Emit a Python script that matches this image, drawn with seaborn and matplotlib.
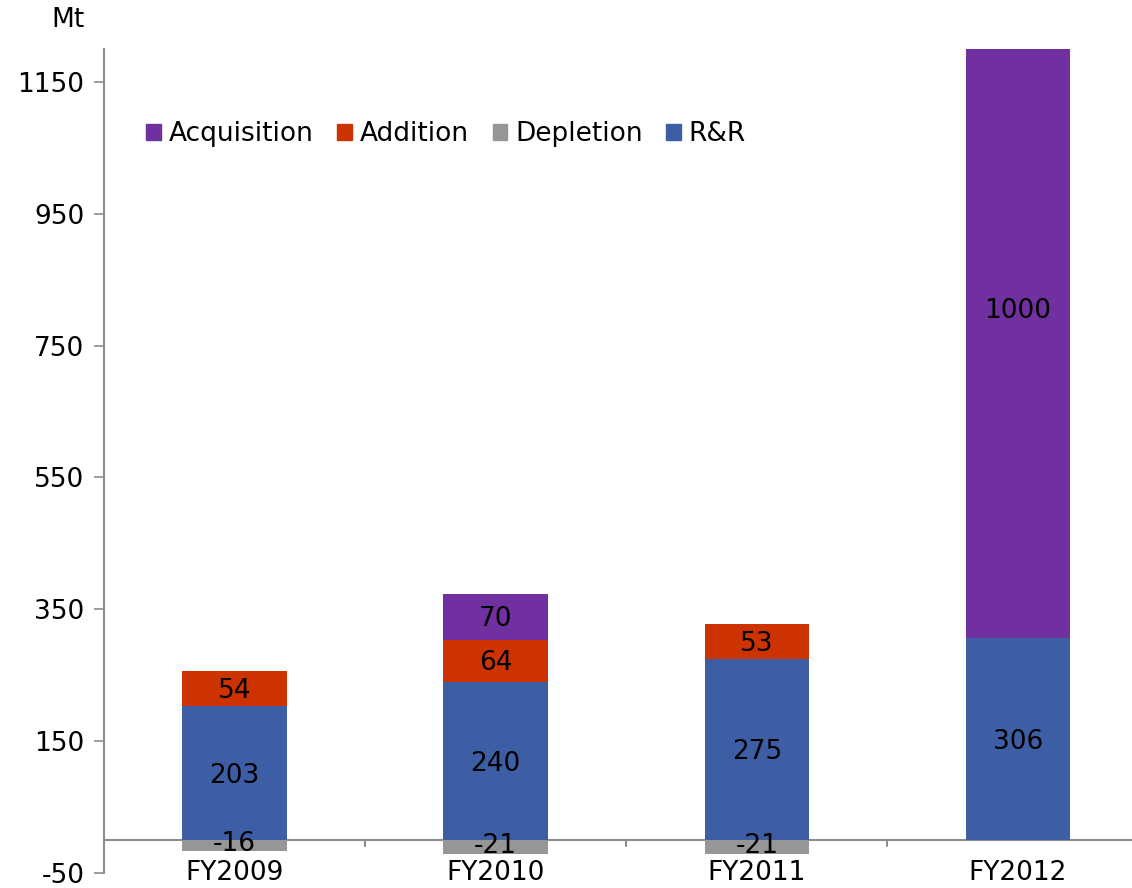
import matplotlib
matplotlib.use("Agg")
import matplotlib.pyplot as plt
from matplotlib.patches import Patch
import seaborn as sns
import numpy as np

sns.set_style("white")
plt.rcParams['font.family'] = ['DejaVu Sans']
plt.rcParams['axes.unicode_minus'] = False
plt.rcParams['text.color'] = 'black'
plt.rcParams['ytick.labelcolor'] = 'black'

years = ['FY2009', 'FY2010', 'FY2011', 'FY2012']
rr = [203, 240, 275, 306]
addition = [54, 64, 53, 0]
acquisition = [0, 70, 0, 1000]
depletion = [-16, -21, -21, 0]

c_acq = '#7030A0'
c_add = '#CC3300'
c_dep = '#969696'
c_rr = '#3D5DA5'
axis_grey = '#8C8C8C'

fig = plt.figure(figsize=(11.32, 8.88), dpi=100)
ax = fig.add_axes([104 / 1132, 0.0169, 1 - 104 / 1132, 0.9448 - 0.0169])

rr_a = np.array(rr)
add_a = np.array(addition)

kw = dict(width=0.4, linewidth=0, saturation=1, ax=ax)
sns.barplot(x=years, y=rr, color=c_rr, **kw)
sns.barplot(x=years, y=addition, bottom=rr_a, color=c_add, **kw)
sns.barplot(x=years, y=acquisition, bottom=rr_a + add_a, color=c_acq, **kw)
sns.barplot(x=years, y=depletion, color=c_dep, **kw)

# segment labels
fs = 19
for i in range(len(years)):
    segs = [(0, rr[i]), (rr[i], addition[i]), (rr[i] + addition[i], acquisition[i])]
    for base, v in segs:
        if v != 0:
            ax.text(i, base + v / 2 - 4, str(v), ha='center', va='center', fontsize=fs, color='black')
    if depletion[i] != 0:
        ax.text(i, depletion[i] / 2 + 2, str(depletion[i]), ha='center', va='center', fontsize=fs)
    ax.text(i, -50, years[i], ha='center', va='center', fontsize=fs, clip_on=False)

ax.set_ylim(-50, 1200)
ax.set_xlim(-0.5, 3.437)
ax.set_yticks([-50, 150, 350, 550, 750, 950, 1150])
ax.tick_params(axis='y', labelsize=fs, length=7, width=1.2, color=axis_grey, direction='out', left=True, pad=7)
ax.set_xticks([])
ax.set_xlabel('')
ax.set_ylabel('')

for s in ['top', 'right', 'bottom']:
    ax.spines[s].set_visible(False)
ax.spines['left'].set_color(axis_grey)
ax.spines['left'].set_linewidth(1.5)

# zero line with category separators
ax.axhline(0, color=axis_grey, linewidth=1.5, zorder=0.5)
for b in [0.5, 1.5, 2.5]:
    ax.plot([b, b], [0, -9], color=axis_grey, linewidth=1.5, clip_on=False)

fig.text(68 / 1132, 1 - 20 / 888, 'Mt', ha='center', va='center', fontsize=fs)

handles = [Patch(color=c) for c in [c_acq, c_add, c_dep, c_rr]]
ax.legend(handles, ['Acquisition', 'Addition', 'Depletion', 'R&R'], ncol=4, frameon=False,
          loc='center left', bbox_to_anchor=(0.018, 0.897), fontsize=fs,
          handlelength=0.55, handleheight=0.55, handletextpad=0.3, columnspacing=0.9)

fig.savefig('out.png', dpi=100)
